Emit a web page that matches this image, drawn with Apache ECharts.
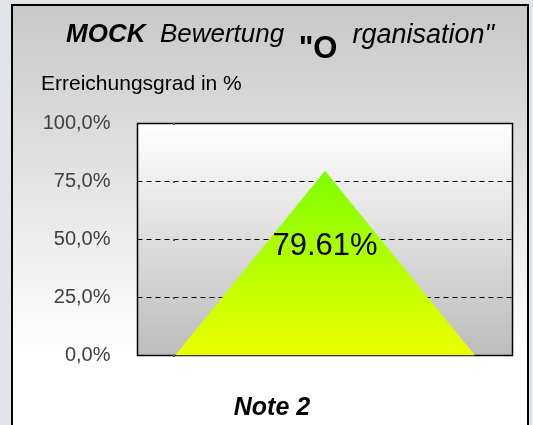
<!DOCTYPE html>
<html>
<head>
<meta charset="utf-8">
<script src="https://cdn.jsdelivr.net/npm/echarts@6/dist/echarts.min.js"></script>
<style>
  html, body { margin: 0; padding: 0; background: #e1e5e9; }
  #chart { width: 533px; height: 425px; }
</style>
</head>
<body>
<div id="chart"></div>
<script>
    'use strict'

    /* Chart data */
    var xPoints = [0, 1, 2];
    var erreichung = [0, 79.61, 0];
    var labelLevel = 50;
    var yTicks = [0, 25, 50, 75, 100];

    var chart = echarts.init(document.getElementById('chart'));

    var option = {
        backgroundColor: '#e1e5e9',
        textStyle: { fontFamily: 'Liberation Sans, Arial, sans-serif' },
        graphic: [{
            type: 'rect',
            z: -10,
            silent: true,
            shape: { x: 12, y: 5, width: 516, height: 440 },
            style: {
                stroke: '#000',
                lineWidth: 2,
                fill: new echarts.graphic.LinearGradient(0, 0, 0, 1, [
                    { offset: 0, color: '#c8c8c8' },
                    { offset: 0.8, color: '#ffffff' },
                    { offset: 1, color: '#ffffff' }
                ])
            }
        }],
        title: [{
            left: 66,
            top: 22,
            padding: 0,
            text: '{m|MOCK}{t|  Bewertung  }{o|"O}{r|  rganisation"}',
            textStyle: {
                fontWeight: 'normal',
                rich: {
                    m: { fontSize: 26, fontWeight: 'bold', fontStyle: 'italic', color: '#000', lineHeight: 30, verticalAlign: 'top' },
                    t: { fontSize: 26, fontWeight: 'normal', fontStyle: 'italic', color: '#000', lineHeight: 30, verticalAlign: 'top' },
                    r: { fontSize: 27, fontWeight: 'normal', fontStyle: 'italic', color: '#000', lineHeight: 30, verticalAlign: 'top' },
                    o: { fontSize: 31, fontWeight: 'bold', color: '#000', lineHeight: 32, padding: [12, 0, 0, 0], verticalAlign: 'top' }
                }
            }
        }, {
            left: 41,
            top: 74,
            padding: 0,
            text: 'Erreichungsgrad in %',
            textStyle: { fontSize: 21, fontWeight: 'normal', color: '#000' }
        }, {
            left: 272,
            top: 396,
            padding: 0,
            textAlign: 'center',
            text: 'Note 2',
            textStyle: { fontSize: 25, fontWeight: 'bold', fontStyle: 'italic', color: '#000' }
        }],
        grid: {
            left: 137.5,
            right: 20.5,
            top: 123.5,
            bottom: 69.5,
            show: true,
            borderColor: '#000',
            borderWidth: 1.5,
            backgroundColor: new echarts.graphic.LinearGradient(0, 0, 0, 1, [
                { offset: 0, color: '#ffffff' },
                { offset: 1, color: '#bcbcbc' }
            ])
        },
        xAxis: {
            type: 'value',
            min: -0.25,
            max: 2.25,
            show: false
        },
        yAxis: {
            type: 'value',
            min: yTicks[0],
            max: yTicks[yTicks.length - 1],
            interval: 25,
            offset: 11,
            axisLine: { show: true, lineStyle: { color: 'rgba(0,0,0,0)' } },
            axisTick: { show: true, inside: false, length: 2, lineStyle: { color: '#555', width: 2 } },
            axisLabel: {
                margin: 16,
                fontSize: 20,
                color: '#404040',
                formatter: function (v) { return v.toFixed(1).replace('.', ',') + '%'; }
            },
            splitLine: {
                show: true,
                lineStyle: { color: '#000', type: [5, 4], width: 1 }
            }
        },
        series: [{
            type: 'line',
            data: xPoints.map(function (x, i) { return [x, erreichung[i]]; }),
            symbol: 'none',
            lineStyle: { width: 0 },
            areaStyle: {
                opacity: 1,
                color: new echarts.graphic.LinearGradient(0, 0, 0, 1, [
                    { offset: 0, color: '#7dff00' },
                    { offset: 1, color: '#ecff00' }
                ])
            },
            markPoint: {
                symbol: 'circle',
                symbolSize: 0,
                data: [{ coord: [xPoints[1], labelLevel], value: erreichung[1] }],
                label: {
                    show: true,
                    position: 'inside',
                    offset: [0, 7],
                    fontSize: 31,
                    color: '#000',
                    formatter: function (p) { return p.value.toFixed(2) + '%'; }
                }
            },
            z: 3
        }],
        animation: false
    };

    chart.setOption(option);
</script>
</body>
</html>
